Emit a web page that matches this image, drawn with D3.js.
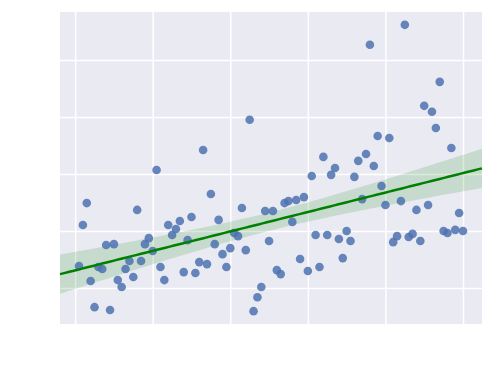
<!DOCTYPE html>
<html>
<head>
<meta charset="utf-8">
<script src="https://cdn.jsdelivr.net/npm/d3@7"></script>
<style>
  body { margin: 0; background: white; }
</style>
</head>
<body>
<svg id="canvas" width="494" height="388"></svg>
<script>
// data
var xs = d3.range(1, 101);
var ys = [7.7, 22.1, 29.8, 2.5, -6.7, 7.4, 6.7, 15.1, -7.7, 15.4,
          2.8, 0.4, 6.7, 9.5, 3.9, 27.4, 9.5, 15.4, 17.5, 13.0,
          41.4, 7.4, 2.8, 22.1, 18.6, 20.7, 23.5, 5.6, 16.8, 24.9,
          5.3, 9.1, 48.4, 8.4, 33.0, 15.4, 23.9, 11.9, 7.4, 14.0,
          19.3, 18.2, 28.1, 13.3, 59.0, -8.1, -3.2, 0.4, 27.0, 16.5,
          27.0, 6.3, 4.9, 29.8, 30.5, 23.2, 30.9, 10.2, 31.9, 6.0,
          39.3, 18.6, 7.4, 46.0, 18.6, 39.7, 42.1, 17.2, 10.5, 20.0,
          16.5, 39.0, 44.6, 31.2, 47.0, 85.3, 42.8, 53.3, 35.8, 29.1,
          52.6, 16.1, 18.2, 30.5, 92.3, 17.9, 19.0, 27.4, 16.5, 63.9,
          29.1, 61.8, 56.1, 72.3, 20.0, 19.3, 49.1, 20.4, 26.3, 20.0];
var xTicks = [0, 20, 40, 60, 80, 100];
var yTicks = [0, 20, 40, 60, 80];
var xLim = [-3.9, 104.9];
var yLim = [-12.6, 96.8];

var margin = { left: 60, top: 12, right: 12, bottom: 64 };
var width = 494 - margin.left - margin.right;
var height = 388 - margin.top - margin.bottom;

var svg = d3.select('#canvas');
var g = svg.append('g').attr('transform', 'translate(' + margin.left + ',' + margin.top + ')');

var x = d3.scaleLinear().domain(xLim).range([0, width]);
var y = d3.scaleLinear().domain(yLim).range([height, 0]);

g.append('rect').attr('width', width).attr('height', height).style('fill', '#EAEAF2');

// grid
var gx = g.append('g').attr('transform', 'translate(0,' + height + ')')
  .call(d3.axisBottom(x).tickValues(xTicks).tickSize(-height).tickFormat(''));
var gy = g.append('g')
  .call(d3.axisLeft(y).tickValues(yTicks).tickSize(-width).tickFormat(''));
[gx, gy].forEach(function(a){
  a.select('.domain').remove();
  a.selectAll('line').style('stroke', 'white').style('stroke-width', 1.5);
});

// least squares fit + 95% band
var n = xs.length;
var mx = d3.mean(xs), my = d3.mean(ys);
var sxx = d3.sum(xs, function(d){ return (d - mx) * (d - mx); });
var sxy = d3.sum(xs, function(d, i){ return (d - mx) * (ys[i] - my); });
var b = sxy / sxx, a = my - b * mx;
var sse = d3.sum(xs, function(d, i){ var r = ys[i] - (a + b * d); return r * r; });
var s = Math.sqrt(sse / (n - 2));
var grid = d3.range(0, 101).map(function(i){ return xLim[0] + (xLim[1] - xLim[0]) * i / 100; });
var band = grid.map(function(d){
  var yh = a + b * d;
  var se = 1.984 * s * Math.sqrt(1 / n + (d - mx) * (d - mx) / sxx);
  return { x: d, y: yh, lo: yh - se, hi: yh + se };
});

var clip = g.append('clipPath').attr('id', 'clip').append('rect').attr('width', width).attr('height', height);

g.append('path').datum(band)
  .attr('clip-path', 'url(#clip)')
  .attr('d', d3.area().x(function(d){ return x(d.x); }).y0(function(d){ return y(d.lo); }).y1(function(d){ return y(d.hi); }))
  .style('fill', '#008000').style('opacity', 0.15);

g.selectAll('circle').data(xs).enter().append('circle')
  .attr('cx', function(d){ return x(d); })
  .attr('cy', function(d, i){ return y(ys[i]); })
  .attr('r', 4.3)
  .style('fill', '#4C72B0').style('opacity', 0.85);

g.append('path').datum(band)
  .attr('d', d3.line().x(function(d){ return x(d.x); }).y(function(d){ return y(d.y); }))
  .style('fill', 'none').style('stroke', '#008000').style('stroke-width', 2.5);
</script>
</body>
</html>
